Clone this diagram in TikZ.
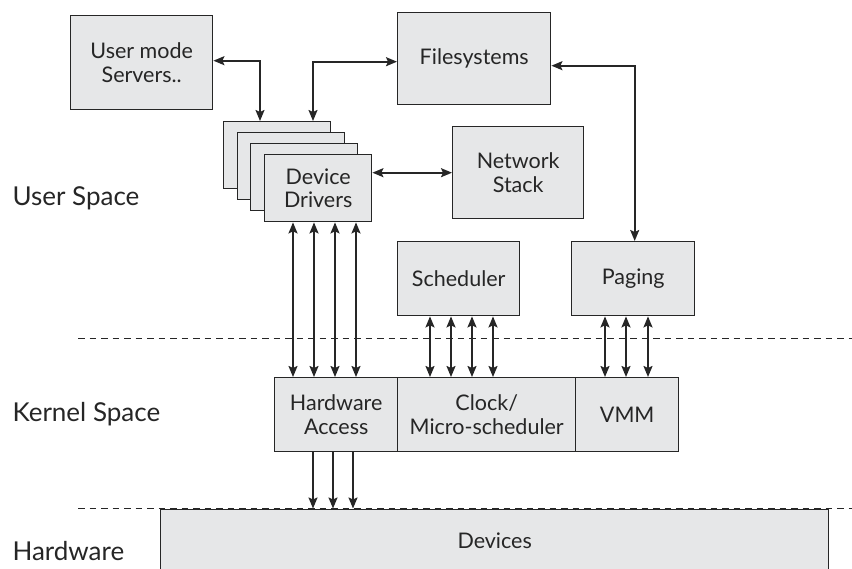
\documentclass[tikz,border=0pt]{standalone}
\usepackage{fontspec}
\setmainfont{Lato}
\usetikzlibrary{arrows.meta}
\definecolor{boxfill}{HTML}{E6E7E8}
\definecolor{ink}{HTML}{262626}
\begin{document}
\begin{tikzpicture}[x=1pt,y=-1pt,
  blk/.style={draw=ink, fill=boxfill, line width=1.4pt, inner sep=0pt,
    align=center, anchor=north west, text=ink,
    font=\fontsize{21.5}{23.5}\selectfont},
  link/.style={draw=ink, line width=1.7pt, {Stealth[length=11pt,width=9pt,inset=2pt]}-{Stealth[length=11pt,width=9pt,inset=2pt]}},
  down/.style={draw=ink, line width=1.7pt, -{Stealth[length=11pt,width=9pt,inset=2pt]}},
  sep/.style={draw=ink, line width=1pt, dash pattern=on 6.5pt off 5pt},
  layer/.style={anchor=base west, text=ink, font=\fontsize{26}{30}\selectfont}]
\useasboundingbox (0,0) rectangle (852,569);

% layer separators
\draw[sep] (78,338.5) -- (852,338.5);
\draw[sep] (78,508.5) -- (852,508.5);

% layer names
\node[layer] (lus) at (9,206) {User Space};
\node[layer] (lks) at (9,421) {Kernel Space};
\node[layer] (lhw) at (9,560) {Hardware};

% user space components
\node[blk, minimum width=142pt, minimum height=94pt] (ums) at (70,15) {User mode\\Servers..};
\node[blk, minimum width=153pt, minimum height=92pt] (fs) at (397,12) {Filesystems};
\node[blk, minimum width=131pt, minimum height=92pt] (net) at (452,126) {Network\\Stack};
\node[blk, minimum width=107pt, minimum height=67pt] (dd1) at (223,121) {};
\node[blk, minimum width=107pt, minimum height=67pt] (dd2) at (237,132) {};
\node[blk, minimum width=107pt, minimum height=67pt] (dd3) at (250,143) {};
\node[blk, minimum width=107pt, minimum height=67pt] (dd4) at (264,154) {Device\\Drivers};
\node[blk, minimum width=122pt, minimum height=74pt] (sch) at (397,241) {Scheduler};
\node[blk, minimum width=123pt, minimum height=74pt] (pag) at (571,241) {Paging};

% kernel space components
\node[blk, minimum width=123pt, minimum height=74pt] (hwa) at (274,377) {Hardware\\Access};
\node[blk, minimum width=178pt, minimum height=74pt] (clk) at (397,377) {Clock/\\Micro-scheduler};
\node[blk, minimum width=103pt, minimum height=74pt] (vmm) at (575,377) {VMM};

% hardware
\node[blk, minimum width=668pt, minimum height=64pt] (dev) at (160,508.5) {Devices};

% connectors
\draw[link] ([yshift=2pt]ums.east) -| ([xshift=37pt]dd1.north west);
\draw[link] ([yshift=-3pt]fs.west) -| ([xshift=90pt]dd1.north west);
\draw[link] ([yshift=-7pt]fs.east) -| ([xshift=1.5pt]pag.north);
\draw[link] (net.west -| dd4.east) -- (net.west);
\foreach \dx in {29,50,71,92}
  \draw[link] ([xshift=\dx pt]dd4.south west) -- ([xshift=\dx pt]dd4.south west |- hwa.north);
\foreach \dx in {33,54,75,96}
  \draw[link] ([xshift=\dx pt]sch.south west) -- ([xshift=\dx pt]sch.south west |- clk.north);
\foreach \dx in {34,55,77}
  \draw[link] ([xshift=\dx pt]pag.south west) -- ([xshift=\dx pt]pag.south west |- vmm.north);
\foreach \dx in {39,59,79}
  \draw[down] ([xshift=\dx pt]hwa.south west) -- ([xshift=\dx pt]hwa.south west |- dev.north);
\end{tikzpicture}
\end{document}
